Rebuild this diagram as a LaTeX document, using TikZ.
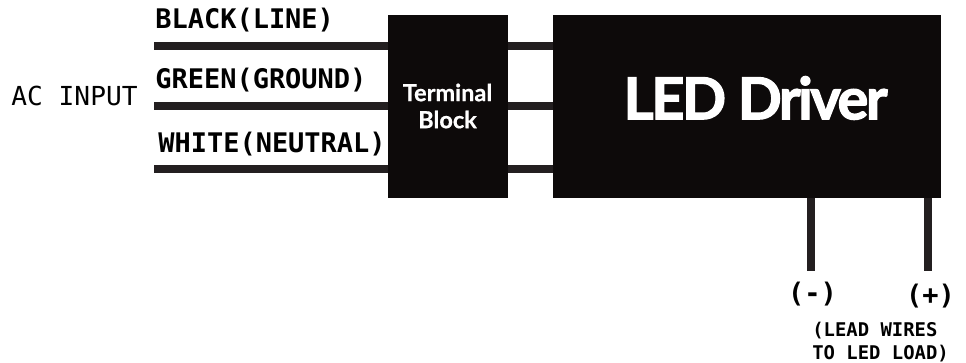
\documentclass[tikz,border=0pt]{standalone}
\usepackage{fontspec}
\setmonofont{DejaVu Sans Mono}
\newfontfamily\blockfont[FakeBold=0.6]{Lato Bold}
\newfontfamily\driverfont[FakeBold=2,LetterSpace=-4.3]{Lato Bold}
\usetikzlibrary{positioning}
\definecolor{blockblack}{RGB}{13,10,10}
\definecolor{wireblack}{RGB}{35,31,32}
\tikzset{
  blockbox/.style={fill=blockblack, draw=none, inner sep=0pt},
  blocktext/.style={inner sep=0pt, text=white, align=center},
  wirethick/.style={draw=wireblack, line width=0.15cm},
  wirelabel/.style={inner sep=0pt, font=\ttfamily\bfseries\fontsize{15.35}{18}\selectfont},
  leadlabel/.style={inner sep=0pt, align=left, font=\ttfamily\bfseries\fontsize{10.75}{13.4}\selectfont},
}
\begin{document}
\begin{tikzpicture}[x=0.02cm, y=-0.02cm]
\useasboundingbox (0,0) rectangle (966,362);
% -- Blocks --
\node[blockbox, minimum width=2.4cm, minimum height=3.66cm] (termblock) at (448,106.5) {};
\node[blockbox, minimum width=7.76cm, minimum height=3.66cm] (driver) at (747,106.5) {};
\node[blocktext, font=\blockfont\fontsize{13.4}{15.4}\selectfont] (lblterm) at (447.5,106) {Terminal\\Block};
\node[blocktext, font=\driverfont\fontsize{33}{36}\selectfont] (lbldriver) at (755.5,98) {LED Driver};
% Input wires
\coordinate (inblack) at (154,46);
\coordinate (ingreen) at (154,106);
\coordinate (inwhite) at (154,169);
\foreach \wname in {inblack, ingreen, inwhite} {
  \draw[wirethick] (\wname) -- (\wname -| termblock.west);
  \draw[wirethick] (\wname -| termblock.east) -- (\wname -| driver.west);
}
% -- Lead wires --
\coordinate (leadminus) at (811,271);
\coordinate (leadplus) at (928,271);
\draw[wirethick] (leadminus |- driver.south) -- (leadminus);
\draw[wirethick] (leadplus |- driver.south) -- (leadplus);
% Labels
\node[inner sep=0pt, font=\ttfamily\fontsize{14.9}{18}\selectfont] (acinput) at (74.5,96) {AC INPUT};
\node[wirelabel, anchor=west] (lblblack) at (155,20.5) {BLACK(LINE)};
\node[wirelabel, anchor=west] (lblgreen) at (155,80) {GREEN(GROUND)};
\node[wirelabel, anchor=west] (lblwhite) at (158,144) {WHITE(NEUTRAL)};
\node[wirelabel] (lblminus) at (812.5,294) {(-)};
\node[wirelabel] (lblplus) at (930.5,296.5) {(+)};
\node[leadlabel, anchor=west] (lblload) at (812,342) {(LEAD WIRES\\TO LED LOAD)};
\end{tikzpicture}
\end{document}
